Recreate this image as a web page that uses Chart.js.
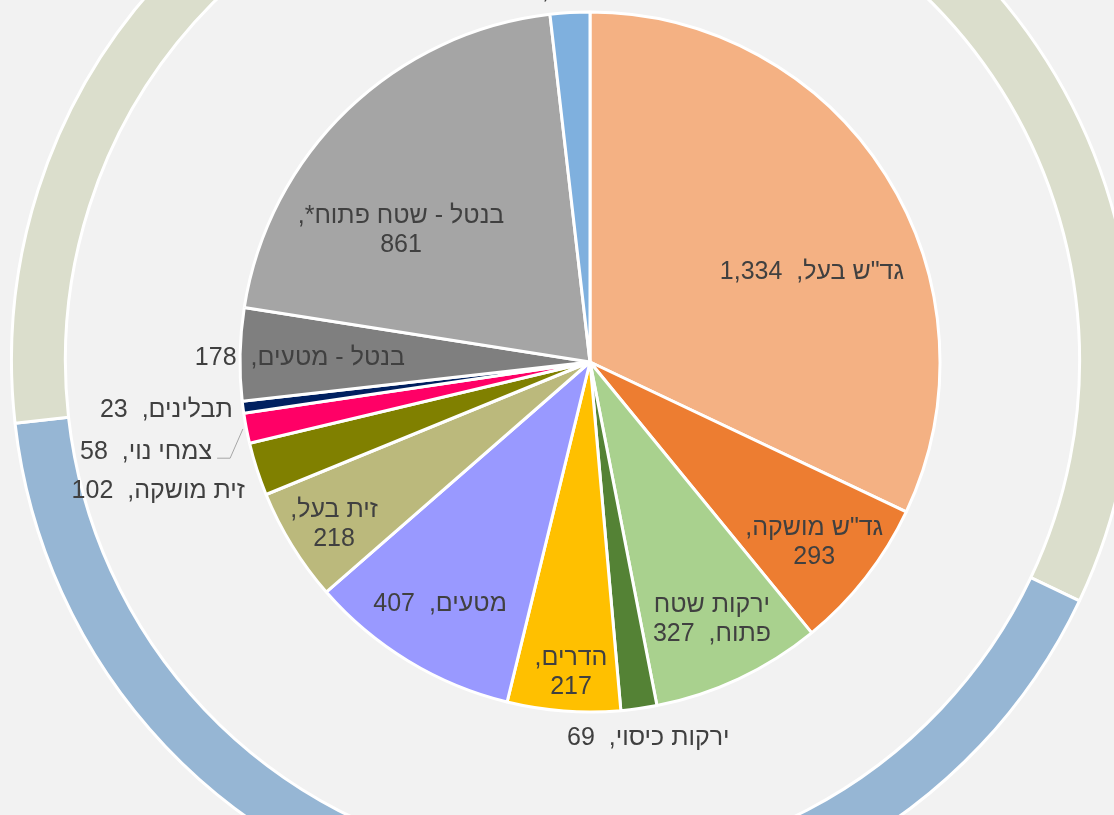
<!DOCTYPE html>
<html><head><meta charset="utf-8">
<script src="https://cdn.jsdelivr.net/npm/chart.js@4.4.0/dist/chart.umd.min.js"></script>
<style>
html,body{margin:0;padding:0;background:#F2F2F2;}
#wrap{position:relative;width:1114px;height:815px;overflow:hidden;background:#F2F2F2;}
#ring{position:absolute;left:10px;top:-202px;}
#pie{position:absolute;left:0;top:0;}
</style></head><body>
<div id="wrap">
  <canvas id="ring" width="1125" height="1125"></canvas>
  <canvas id="pie" width="1114" height="815"></canvas>
</div>
<script>
// ---- data ----
const categories = ['גד"ש בעל','גד"ש מושקה','ירקות שטח פתוח','ירקות כיסוי','הדרים','מטעים','זית בעל','זית מושקה','צמחי נוי','תבלינים','בנטל - מטעים','בנטל - שטח פתוח*','אחר'];
const values = [1334,293,327,69,217,407,218,102,58,23,178,861,76];
const sliceColors = ['#F4B183','#ED7D31','#A9D18E','#548235','#FFC000','#9999FF','#BBB97C','#808000','#FF0066','#002060','#7F7F7F','#A5A5A5','#7FB0DE'];
// outer ring: groups of slices
const ringCategories = ['בעל','שלחין','בנטל ואחר'];
const ringGroups = [[0],[1,2,3,4,5,6,7,8,9],[10,11,12]];
const ringValues = ringGroups.map(g => g.reduce((s,i)=>s+values[i],0));
const ringColors = ['#DBDECC','#96B6D4','#DBDECC'];

// ---- label layout (position along slice t, radius fraction r) ----
const labelLayout = [
  {t:.589, r:.684, align:'center', mode:1},
  {t:.534, r:.823, align:'center', mode:2},
  {t:.495, r:.815, align:'center', mode:3},
  {t:.37,  r:1.087,align:'center', mode:1},
  {t:.456, r:.89,  align:'center', mode:2},
  {t:.514, r:.813, align:'center', mode:1},
  {t:.456, r:.867, align:'center', mode:2},
  {t:.19,  r:1.053,align:'right',  mode:1},
  {t:0,    r:1.11, align:'right',  mode:1, leader:true},
  {t:.37,  r:1.03, align:'right',  mode:1},
  {t:.47,  r:.829, align:'center', mode:1},
  {t:.346, r:.657, align:'center', mode:2},
  {t:0,    r:1.067,align:'center', mode:1}
];

const fmt = v => v.toLocaleString('en-US');
function linesFor(i){
  const name = categories[i], num = fmt(values[i]), m = labelLayout[i].mode;
  if (m === 2) return [name + ',', num];
  if (m === 3) { const w = name.split(' '); return [w.slice(0,2).join(' '), w.slice(2).join(' ') + ',  ' + num]; }
  return [name + ',  ' + num];
}

const labelPlugin = {
  id:'sliceLabels',
  afterDatasetsDraw(chart){
    const meta = chart.getDatasetMeta(0);
    const ctx = chart.ctx;
    ctx.save();
    ctx.font = '25px "Liberation Sans", Arial, sans-serif';
    ctx.fillStyle = '#404040';
    ctx.direction = 'rtl';
    ctx.textBaseline = 'middle';
    const lh = 29;
    meta.data.forEach((arc, i) => {
      const p = arc.getProps(['x','y','startAngle','endAngle','outerRadius'], true);
      const L = labelLayout[i];
      const a = p.startAngle + L.t * (p.endAngle - p.startAngle);
      const cx = p.x + Math.cos(a) * L.r * p.outerRadius;
      const cy = p.y + Math.sin(a) * L.r * p.outerRadius;
      if (L.leader) {
        const mid = (p.startAngle + p.endAngle) / 2;
        ctx.beginPath();
        ctx.strokeStyle = '#A6A6A6';
        ctx.lineWidth = 1;
        ctx.moveTo(p.x + Math.cos(mid)*p.outerRadius*1.01, p.y + Math.sin(mid)*p.outerRadius*1.01);
        ctx.lineTo(cx + 18, cy + 6);
        ctx.lineTo(cx + 5, cy + 6);
        ctx.stroke();
      }
      const lines = linesFor(i);
      ctx.textAlign = L.align;
      lines.forEach((s, k) => {
        ctx.fillText(s, cx, cy + (k - (lines.length-1)/2) * lh);
      });
    });
    ctx.restore();
  }
};

const common = {
  responsive:false, animation:false, events:[],
  hoverOffset:0, offset:0,
  plugins:{legend:{display:false}, tooltip:{enabled:false}}
};

// outer ring (its own centre, behind the pie)
new Chart(document.getElementById('ring'), {
  type:'doughnut',
  data:{ labels: ringCategories,
    datasets:[{label:'ring', data: ringValues, backgroundColor: ringColors, borderColor:'#FFFFFF', borderWidth:3}] },
  options:Object.assign({}, common, {cutout:'90.4%', layout:{padding:0}})
});

// inner pie
new Chart(document.getElementById('pie'), {
  type:'doughnut',
  data:{ labels: categories,
    datasets:[{label:'pie', data: values, backgroundColor: sliceColors, borderColor:'#FFFFFF', borderWidth:3}] },
  options:Object.assign({}, common, {cutout:0, layout:{padding:{left:238.5, right:172.5, top:10.5, bottom:101.5}}}),
  plugins:[labelPlugin]
});
</script>
</body></html>
